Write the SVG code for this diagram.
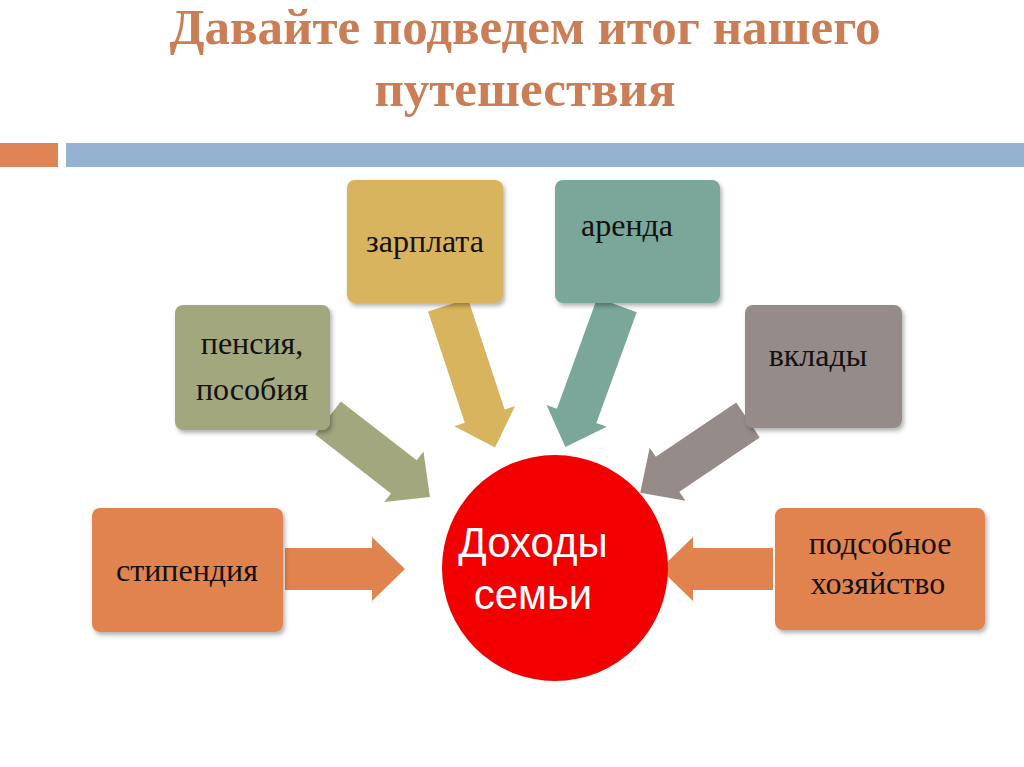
<svg xmlns="http://www.w3.org/2000/svg" width="1024" height="767" viewBox="0 0 1024 767">
<style>
.t{font-family:"Liberation Serif",serif;font-size:32px;fill:#111;text-anchor:middle}
.h{font-family:"Liberation Serif",serif;font-size:51px;font-weight:bold;fill:#CB7E55;text-anchor:middle}
.c{font-family:"Liberation Sans",sans-serif;font-size:42px;fill:#fff;text-anchor:middle}
rect.b{filter:url(#s)}
</style>
<defs>
<filter id="s" x="-10%" y="-10%" width="130%" height="130%"><feDropShadow dx="2" dy="3" stdDeviation="2" flood-opacity="0.3"/></filter>
</defs>
<rect width="1024" height="767" fill="#fff"/>
<text class="h" x="525" y="44">Давайте подведем итог нашего</text>
<text class="h" x="525" y="106">путешествия</text>
<rect x="0" y="143" width="58" height="24" fill="#DF8455"/>
<rect x="66" y="143" width="958" height="24" fill="#95B3D1"/>
<g id="connectors">
<polygon transform="translate(285,569)" points="0,-21 87,-21 87,-32 120,0 87,32 87,21 0,21" fill="#E0834F"/>
<polygon transform="translate(773,569) rotate(180)" points="0,-21 80,-21 80,-32 113,0 80,32 80,21 0,21" fill="#E0834F"/>
<polygon transform="translate(328,418) rotate(37.8)" points="0,-21 96,-21 96,-32 129,0 96,32 96,21 0,21" fill="#A3A77E"/>
<polygon transform="translate(448,305) rotate(71.7)" points="0,-21 117,-21 117,-32 150,0 117,32 117,21 0,21" fill="#D9B45F"/>
<polygon transform="translate(617,305) rotate(110)" points="0,-21 118,-21 118,-32 151,0 118,32 118,21 0,21" fill="#7AA79A"/>
<polygon transform="translate(748,420) rotate(146)" points="0,-21 97,-21 97,-32 130,0 97,32 97,21 0,21" fill="#958B88"/>
</g>
<g id="zarplata"><rect class="b" x="347" y="180" width="156" height="123" rx="8" fill="#D9B45F"/><text class="t" x="425" y="252">зарплата</text></g>
<g id="arenda"><rect class="b" x="555" y="180" width="165" height="123" rx="8" fill="#7AA79A"/><text class="t" x="627" y="236">аренда</text></g>
<g id="pensia"><rect class="b" x="175" y="305" width="155" height="125" rx="8" fill="#A3A77E"/><text class="t" x="252" y="354">пенсия,</text><text class="t" x="252" y="400">пособия</text></g>
<g id="vklady"><rect class="b" x="745" y="305" width="157" height="123" rx="8" fill="#958B88"/><text class="t" x="818" y="366">вклады</text></g>
<g id="stipendia"><rect class="b" x="92" y="508" width="191" height="124" rx="8" fill="#E0834F"/><text class="t" x="187" y="581">стипендия</text></g>
<g id="podsobnoe"><rect class="b" x="775" y="508" width="210" height="122" rx="8" fill="#E0834F"/><text class="t" x="880" y="554">подсобное</text><text class="t" x="878" y="594">хозяйство</text></g>
<g id="center"><circle cx="555" cy="568" r="113" fill="#F20000"/><text class="c" x="533" y="557">Доходы</text><text class="c" x="533" y="609">семьи</text></g>
</svg>
